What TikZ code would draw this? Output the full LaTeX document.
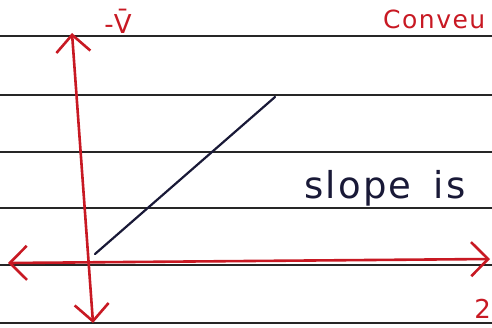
\documentclass[tikz,border=0pt]{standalone}
\usepackage{fontspec}
\newfontfamily\hand[LetterSpace=6]{DejaVu Sans}
\usetikzlibrary{arrows.meta}
\definecolor{pen}{RGB}{200,25,35}
\definecolor{ink}{RGB}{25,25,55}
\tikzset{
  axisline/.style={draw=pen, line width=2.6pt, line cap=round,
    {Straight Barb[length=17pt,width=34pt,line width=2.6pt]}-{Straight Barb[length=17pt,width=34pt,line width=2.6pt]}},
  ruleline/.style={draw=black!85, line width=1.6pt},
  slopeline/.style={draw=ink, line width=2.2pt, line cap=round},
  redtext/.style={text=pen, inner sep=0pt},
  inktext/.style={text=ink, inner sep=0pt}
}
\begin{document}
\begin{tikzpicture}[x=1pt,y=-1pt]
\useasboundingbox (0,0) rectangle (492,327);
\clip (0,0) rectangle (492,327);
\fill[white] (0,0) rectangle (492,327);
\foreach \y in {36,95,152,208,265,323} \draw[ruleline] (0,\y) -- (492,\y);
\coordinate (vt) at (72,33);
\coordinate (vb) at (93,323);
\coordinate (hl) at (8,263);
\coordinate (hr) at (490,259);
\draw[axisline] (vb) -- (vt);
\draw[axisline] (hl) -- (hr);
\coordinate (s0) at (95,254);
\coordinate (s1) at (275,97);
\draw[slopeline] (s0) -- (s1);
\node[redtext, font=\hand\fontsize{26}{26}\selectfont, anchor=base] (vlabel) at (118,33) {-V̄};
\node[redtext, font=\hand\fontsize{25}{25}\selectfont, anchor=base west] (conv) at (383,28) {Conveu};
\node[inktext, font=\hand\fontsize{37}{37}\selectfont, anchor=base west] (slope) at (304,198) {slope\hspace{0.6em}is};
\node[redtext, font=\hand\fontsize{26}{26}\selectfont, anchor=base east] (zlabel) at (491,318) {2};
\end{tikzpicture}
\end{document}
